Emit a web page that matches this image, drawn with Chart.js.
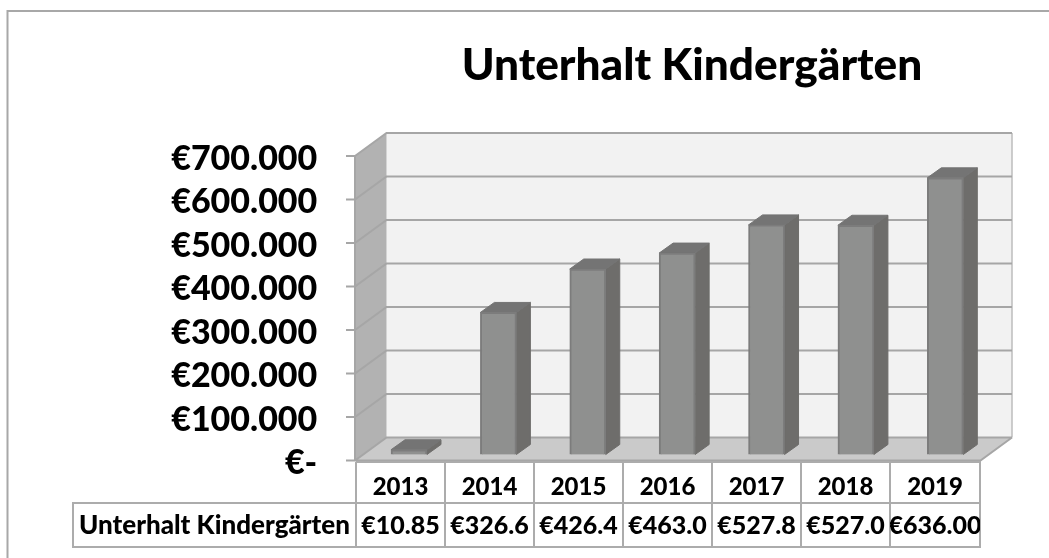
<!DOCTYPE html>
<html><head><meta charset="utf-8">
<style>html,body{margin:0;padding:0;background:#fff}#w{width:1049px;height:558px;position:relative}canvas{display:block}</style>
<script src="https://cdn.jsdelivr.net/npm/chart.js@4"></script>
</head><body><div id="w"><canvas id="c" width="1049" height="558"></canvas></div>
<script>
const titleText = 'Unterhalt Kindergärten';
const seriesName = 'Unterhalt Kindergärten';
const categories = ['2013','2014','2015','2016','2017','2018','2019'];
const values = [10850,326600,426400,463000,527800,527000,636000];
const tableLabels = ['€10.85','€326.6','€426.4','€463.0','€527.8','€527.0','€636.00'];
const tickValues = [0,100000,200000,300000,400000,500000,600000,700000];
const tickLabels = ['€-','€100.000','€200.000','€300.000','€400.000','€500.000','€600.000','€700.000'];

const FONT = 'Lato, Carlito, sans-serif';
const depth = {x:31.5, y:23};
const barDepth = {x:14, y:10};
const tableX = [73,356,445,534,623,712,801,890,980];
const tableY = [462,503,547];

const scene = {
  id:'scene',
  beforeDatasetsDraw(ch){
    const c = ch.ctx, y = ch.scales.y;
    const L = 355, R = 980.5;
    const b = y.getPixelForValue(0), t = y.getPixelForValue(700000);
    c.save();
    c.fillStyle = '#f2f2f2';
    c.fillRect(L+depth.x, t-depth.y, R-L, b-t);
    c.fillStyle = '#b2b2b2';
    c.beginPath(); c.moveTo(L,t); c.lineTo(L+depth.x,t-depth.y); c.lineTo(L+depth.x,b-depth.y); c.lineTo(L,b); c.closePath(); c.fill();
    c.fillStyle = '#cacaca';
    c.beginPath(); c.moveTo(L,b); c.lineTo(L+depth.x,b-depth.y); c.lineTo(R+depth.x,b-depth.y); c.lineTo(R,b); c.closePath(); c.fill();
    c.strokeStyle = '#bdbdbd'; c.lineWidth = 1.5;
    c.beginPath(); c.moveTo(R+depth.x, t-depth.y); c.lineTo(R+depth.x, b-depth.y); c.stroke();
    c.strokeStyle = '#a6a6a6'; c.lineWidth = 2;
    tickValues.forEach(v=>{
      const p = y.getPixelForValue(v);
      c.beginPath();
      c.moveTo(L-9,p); c.lineTo(L,p); c.lineTo(L+depth.x,p-depth.y); c.lineTo(R+depth.x,p-depth.y);
      if(v===0){ c.moveTo(L,p); c.lineTo(R,p); c.lineTo(R+depth.x,p-depth.y); }
      c.stroke();
    });
    c.beginPath(); c.moveTo(L,t); c.lineTo(L,b); c.stroke();
    ch.getDatasetMeta(0).data.forEach(el=>{
      const hw = el.width/2, x0 = el.x-hw, x1 = el.x+hw, yt = el.y, yb = el.base;
      c.fillStyle = '#6e6d6b'; c.strokeStyle = '#6e6d6b'; c.lineWidth = 1;
      c.beginPath(); c.moveTo(x1,yt); c.lineTo(x1+barDepth.x,yt-barDepth.y); c.lineTo(x1+barDepth.x,yb-barDepth.y); c.lineTo(x1,yb); c.closePath(); c.fill(); c.stroke();
      c.fillStyle = '#747474'; c.strokeStyle = '#747474';
      c.beginPath(); c.moveTo(x0,yt); c.lineTo(x0+barDepth.x,yt-barDepth.y); c.lineTo(x1+barDepth.x,yt-barDepth.y); c.lineTo(x1,yt); c.closePath(); c.fill(); c.stroke();
    });
    c.restore();
  },
  afterDraw(ch){
    const c = ch.ctx;
    c.save();
    c.strokeStyle = '#a8a8a8'; c.lineWidth = 2;
    c.beginPath(); c.moveTo(7.5,558); c.lineTo(7.5,11); c.lineTo(1049,11); c.stroke();
    c.strokeStyle = '#acacac'; c.lineWidth = 2;
    c.beginPath();
    for(let i=1;i<tableX.length;i++){ c.moveTo(tableX[i],tableY[0]); c.lineTo(tableX[i],tableY[2]); }
    c.moveTo(tableX[0],tableY[1]-1); c.lineTo(tableX[0],tableY[2]+1);
    c.moveTo(tableX[0],tableY[1]); c.lineTo(tableX[8],tableY[1]);
    c.moveTo(tableX[0],tableY[2]); c.lineTo(tableX[8]+1,tableY[2]);
    c.moveTo(tableX[1],tableY[0]); c.lineTo(tableX[8]+1,tableY[0]);
    c.stroke();
    c.fillStyle = '#000'; c.textBaseline = 'middle'; c.textAlign = 'center';
    c.font = '900 44.2px '+FONT;
    c.fillText(titleText,692,66);
    categories.forEach((s,i)=>{
      const mid = (tableX[i+1]+tableX[i+2])/2;
      c.font = '900 24px '+FONT;
      c.fillText(s,mid,487);
      c.save();
      c.beginPath(); c.rect(tableX[i+1],tableY[1],tableX[i+2]-tableX[i+1],tableY[2]-tableY[1]); c.clip();
      c.font = '900 25px '+FONT;
      c.fillText(tableLabels[i],mid,526);
      c.restore();
    });
    c.font = '900 26px '+FONT;
    c.fillText(seriesName,(tableX[0]+tableX[1])/2,526);
    c.restore();
  }
};

new Chart(document.getElementById('c'),{
  type:'bar',
  data:{labels:categories,datasets:[{
    label:seriesName,data:values,xAxisID:'x',yAxisID:'yBar',
    backgroundColor:'#8f908f',borderColor:'#7c7c7c',borderWidth:2,
    barThickness:36
  }]},
  plugins:[scene],
  options:{
    responsive:false,animation:false,
    layout:{padding:{left:0,right:59,top:156,bottom:97.5}},
    plugins:{legend:{display:false},tooltip:{enabled:false},title:{display:false}},
    scales:{
      x:{display:false},
      y:{display:true,position:'left',min:0,max:700000,
        afterBuildTicks(ax){ax.ticks = tickValues.map(v=>({value:v}));},
        afterFit(ax){ax.width = 364.3;},
        border:{display:false},
        grid:{display:false,drawTicks:false},
        ticks:{display:true,autoSkip:false,color:'#000',padding:47,labelOffset:3,font:{family:FONT,weight:900,size:34},
          callback(v){return tickLabels[tickValues.indexOf(v)];}}},
      yBar:{display:false,position:'left',min:-13800,max:686200}
    }
  }
});
</script>
</body></html>
